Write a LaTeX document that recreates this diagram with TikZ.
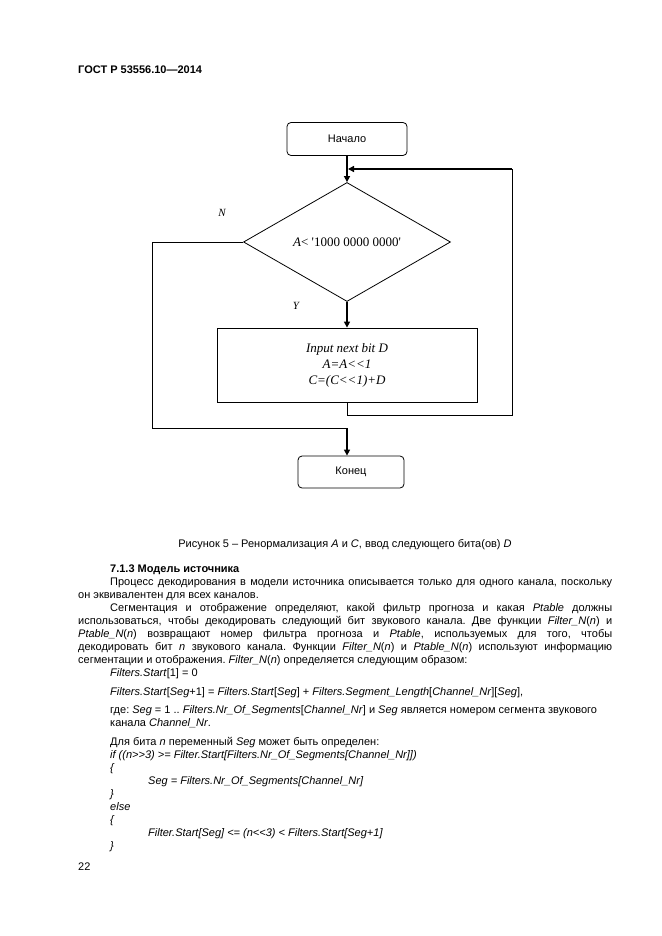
\documentclass[tikz,border=0pt]{standalone}
\usepackage{fontspec}
\setmainfont{Liberation Sans}
\newfontfamily\tms{Liberation Serif}
\usetikzlibrary{arrows.meta,shapes.geometric}
\frenchspacing
\tikzset{
  txt/.style={inner sep=0pt, anchor=base west, font=\fontsize{11}{13}\selectfont},
  term/.style={draw, rounded corners=4pt, line width=0.8pt, inner sep=0pt, font=\fontsize{11}{13}\selectfont},
  decbox/.style={draw, shape=diamond, line width=0.8pt, inner sep=0pt, font=\tms\fontsize{13}{15}\selectfont},
  procbox/.style={draw, line width=0.8pt, inner sep=0pt, align=center, font=\tms\itshape\fontsize{13}{16}\selectfont},
  flow/.style={line width=1.8pt, -{Triangle[length=6pt,width=6pt]}},
  thinline/.style={line width=0.9pt},
  lbl/.style={inner sep=0pt, font=\tms\itshape\fontsize{11}{13}\selectfont}
}
\newcommand{\jl}[1]{\makebox[534pt][s]{#1}}
\newcommand{\jf}[1]{\makebox[502pt][s]{#1}}
\begin{document}
\begin{tikzpicture}[x=1pt,y=-1pt]
\useasboundingbox (0,0) rectangle (661,936);
\fill[white] (0,0) rectangle (661,936);

\node[txt, font=\bfseries\fontsize{11}{13}\selectfont] (hdr) at (78,74) {ГОСТ Р 53556.10—2014};

% flowchart
\node[term, minimum width=120pt, minimum height=33pt] (start) at (347,139) {Начало};
\node[decbox, minimum width=207pt, minimum height=119pt] (dec) at (347,242) {\textit{A}< '1000 0000 0000'};
\node[procbox, minimum width=260pt, minimum height=74pt] (proc) at (347,365) {Input next bit D\\A=A<{}<1\\C=(C<{}<1)+D};
\node[term, minimum width=106pt, minimum height=32pt] (stop) at (351,472) {Конец};

\node[lbl] (nlab) at (222,213) {N};
\node[lbl] (ylab) at (296,306) {Y};

\coordinate (rt) at (512,169);
\coordinate (lt) at (152,242);
\coordinate (lb) at (152,428);
\coordinate (jn) at (347,428);

\draw[flow] (start.south) -- (dec.north);
\draw[flow] (dec.south) -- (proc.north);
\draw[thinline] (proc.south) -- ++(0,13) -| (rt);
\draw[flow, line width=1.5pt] (rt) -- ([xshift=1pt]start.south |- rt);
\draw[thinline] (dec.west) -- (lt) -- (lb) -- ([xshift=1pt]jn);
\draw[flow] (jn) -- (jn |- stop.north);

% caption
\node[inner sep=0pt, anchor=base, font=\fontsize{11}{13}\selectfont] (cap) at (345,547) {Рисунок 5 – Ренормализация \textit{A} и \textit{C}, ввод следующего бита(ов) \textit{D}};

% text
\node[txt, font=\bfseries\fontsize{11}{13}\selectfont] (sec) at (110,572) {7.1.3 Модель источника};
\node[txt] (a1) at (110,585) {\jf{Процесс декодирования в модели источника описывается только для одного канала, поскольку}};
\node[txt] (a2) at (78,598) {он эквивалентен для всех каналов.};
\node[txt] (b1) at (110,611) {\jf{Сегментация и отображение определяют, какой фильтр прогноза и какая \textit{Ptable} должны}};
\node[txt] (b2) at (78,624) {\jl{использоваться, чтобы декодировать следующий бит звукового канала. Две функции \textit{Filter\_N}(\textit{n}) и}};
\node[txt] (b3) at (78,637) {\jl{\textit{Ptable\_N}(\textit{n}) возвращают номер фильтра прогноза и \textit{Ptable}, используемых для того, чтобы}};
\node[txt] (b4) at (78,650) {\jl{декодировать бит \textit{n} звукового канала. Функции \textit{Filter\_N}(\textit{n}) и \textit{Ptable\_N}(\textit{n}) используют информацию}};
\node[txt] (b5) at (78,663) {сегментации и отображения. \textit{Filter\_N}(\textit{n}) определяется следующим образом:};
\node[txt] (c1) at (110,676) {\textit{Filters.Start}[1] = 0};
\node[txt] (c2) at (110,695) {\textit{Filters.Start}[\textit{Seg}+1] = \textit{Filters.Start}[\textit{Seg}] + \textit{Filters.Segment\_Length}[\textit{Channel\_Nr}][\textit{Seg}],};
\node[txt] (c3) at (110,713) {где: \textit{Seg} = 1 .. \textit{Filters.Nr\_Of\_Segments}[\textit{Channel\_Nr}] и \textit{Seg} является номером сегмента звукового};
\node[txt] (c4) at (110,726) {канала \textit{Channel\_Nr}.};
\node[txt] (d1) at (110,745) {Для бита \textit{n} переменный \textit{Seg} может быть определен:};
\node[txt] (d2) at (110,758) {\textit{if ((n>{}>3) >= Filter.Start[Filters.Nr\_Of\_Segments[Channel\_Nr]])}};
\node[txt] (d3) at (110,771) {\textit{\{}};
\node[txt] (d4) at (148,784) {\textit{Seg = Filters.Nr\_Of\_Segments[Channel\_Nr]}};
\node[txt] (d5) at (110,797) {\textit{\}}};
\node[txt] (d6) at (110,810) {\textit{else}};
\node[txt] (d7) at (110,823) {\textit{\{}};
\node[txt] (d8) at (148,836) {\textit{Filter.Start[Seg] <= (n<{}<3) < Filters.Start[Seg+1]}};
\node[txt] (d9) at (110,849) {\textit{\}}};
\node[txt] (pg) at (78,870) {22};
\end{tikzpicture}
\end{document}
